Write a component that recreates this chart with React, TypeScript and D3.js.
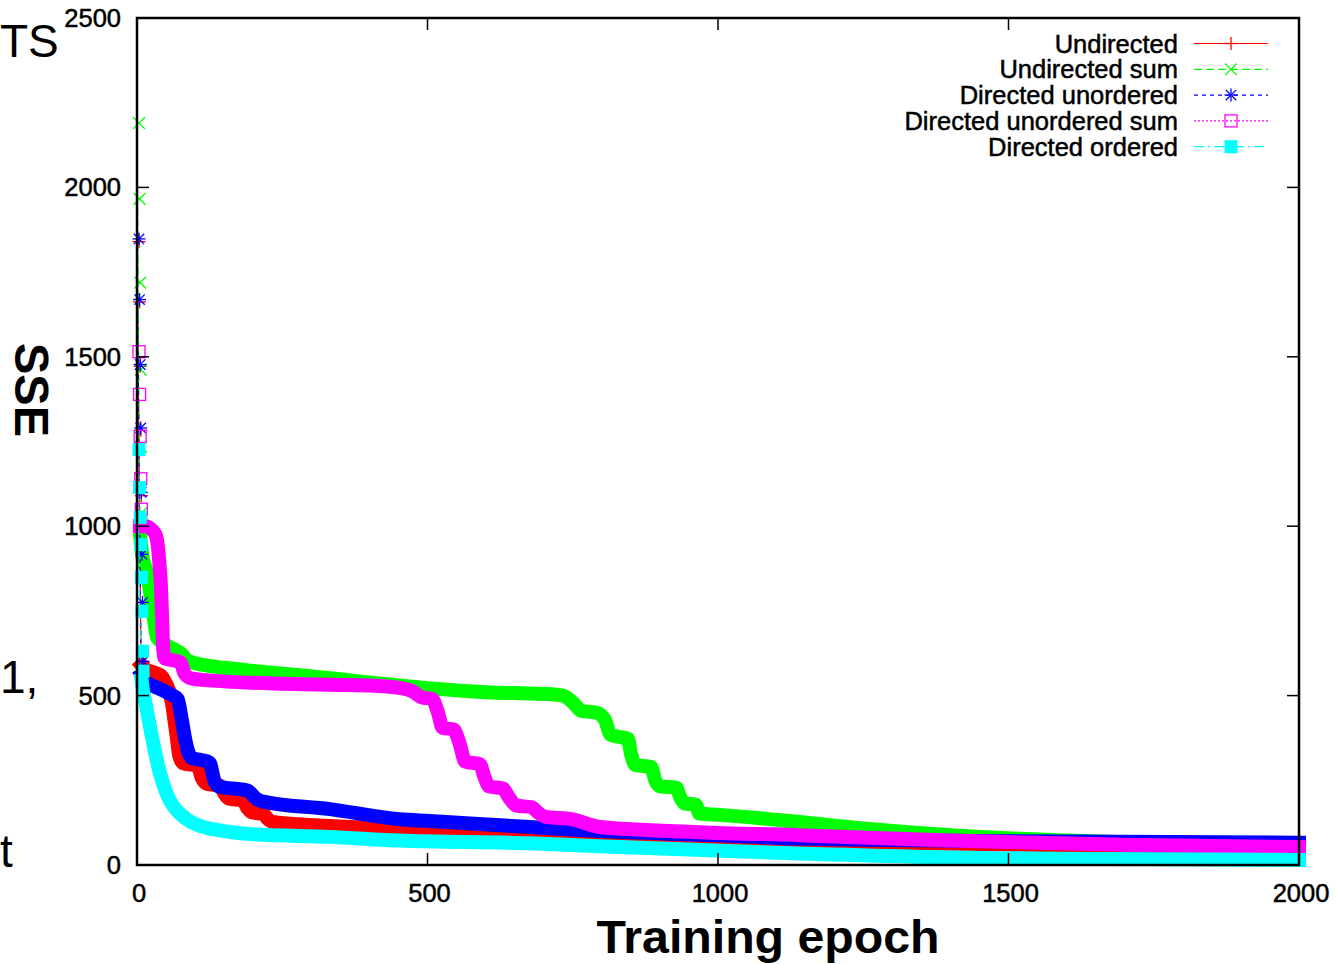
import React from 'react'
import * as d3 from 'd3'

// values
const xTickValues = [0, 500, 1000, 1500, 2000]
const yTickValues = [0, 500, 1000, 1500, 2000, 2500]

const seriesNames = ['Undirected', 'Undirected sum', 'Directed unordered', 'Directed unordered sum', 'Directed ordered']

// first epochs, one point per epoch (0, 1, 2, ...)
const undirectedEarly = [1840, 1662, 1472, 1283, 1090, 910, 765, 598]
const undirectedSumEarly = [2190, 1966, 1719, 1462, 1235, 1040]
const directedUnorderedEarly = [1848, 1669, 1477, 1290, 1100, 917, 775, 601]
const directedUnorderedSumEarly = [1515, 1389, 1265, 1140, 1050]
const directedOrderedEarly = [1226, 1114, 1026, 946, 849, 749, 631, 572]

// the rest of the run
const undirectedEpochs = [8, 15, 30, 42, 50, 56, 61, 65, 69, 73, 80, 104, 112, 120, 143, 150, 158, 182, 190, 197, 218, 225, 233, 332, 452, 676, 900, 1200, 1600, 2000]
const undirectedSse = [590, 578, 568, 558, 535, 510, 470, 420, 370, 320, 300, 293, 255, 240, 234, 212, 196, 190, 168, 156, 150, 136, 127, 115, 106, 92, 80, 68, 58, 50]

const undirectedSumEpochs = [6, 10, 15, 20, 25, 30, 35, 45, 60, 75, 88, 110, 150, 200, 280, 350, 420, 500, 600, 700, 733, 750, 765, 790, 805, 815, 830, 845, 850, 858, 885, 892, 900, 928, 935, 942, 962, 968, 1003, 1140, 1250, 1400, 1600, 1800, 2000]
const undirectedSumSse = [960, 905, 875, 835, 775, 715, 670, 655, 640, 625, 602, 592, 582, 573, 560, 548, 535, 522, 510, 505, 500, 480, 455, 450, 430, 385, 378, 372, 330, 295, 290, 250, 232, 228, 200, 182, 178, 152, 148, 127, 108, 88, 72, 62, 55]

const directedUnorderedEpochs = [8, 15, 30, 45, 60, 70, 76, 82, 88, 95, 110, 125, 133, 140, 190, 205, 215, 332, 452, 504, 676, 796, 1000, 1140, 1500, 2000]
const directedUnorderedSse = [560, 540, 527, 515, 502, 490, 440, 380, 335, 315, 310, 302, 250, 232, 220, 196, 188, 165, 135, 130, 112, 100, 88, 78, 70, 66]

const directedUnorderedSumEpochs = [5, 15, 25, 32, 36, 39, 41, 43, 45, 48, 60, 75, 82, 95, 150, 250, 330, 400, 455, 475, 490, 508, 518, 526, 545, 555, 565, 590, 598, 606, 630, 640, 652, 680, 690, 702, 750, 796, 968, 1140, 1400, 1700, 2000]
const directedUnorderedSumSse = [1000, 1000, 990, 975, 940, 880, 830, 740, 640, 610, 605, 598, 565, 550, 542, 535, 532, 530, 522, 512, 495, 490, 450, 405, 400, 360, 305, 298, 260, 232, 226, 200, 176, 170, 155, 143, 135, 112, 97, 88, 72, 60, 53]

const directedOrderedEpochs = [8, 10, 15, 20, 25, 30, 35, 40, 50, 60, 75, 100, 150, 200, 332, 452, 676, 796, 1140, 1484, 1656, 2000]
const directedOrderedSse = [545, 519, 475, 430, 385, 342, 302, 268, 215, 180, 150, 121, 100, 91, 83, 72, 64, 55, 34, 20, 18, 15]

const W = 1336
const H = 964
const left = 137
const right = 1299
const top = 18
const bottom = 865
const font = 'Liberation Sans, Arial, Helvetica, sans-serif'

const x = d3.scaleLinear().domain([0, 2000]).range([left, right])
const y = d3.scaleLinear().domain([0, 2500]).range([bottom, top])

type MarkerType = 'plus' | 'cross' | 'star' | 'box' | 'boxfill'

const series = [
  { name: seriesNames[0], color: '#ff0000', dash: 'none', marker: 'plus' as MarkerType, early: undirectedEarly, epochs: undirectedEpochs, sse: undirectedSse },
  { name: seriesNames[1], color: '#00ff00', dash: '8,4', marker: 'cross' as MarkerType, early: undirectedSumEarly, epochs: undirectedSumEpochs, sse: undirectedSumSse },
  { name: seriesNames[2], color: '#0000ff', dash: '4,4', marker: 'star' as MarkerType, early: directedUnorderedEarly, epochs: directedUnorderedEpochs, sse: directedUnorderedSse },
  { name: seriesNames[3], color: '#ff00ff', dash: '2,2', marker: 'box' as MarkerType, early: directedUnorderedSumEarly, epochs: directedUnorderedSumEpochs, sse: directedUnorderedSumSse },
  { name: seriesNames[4], color: '#00ffff', dash: '10,4,2,4', marker: 'boxfill' as MarkerType, early: directedOrderedEarly, epochs: directedOrderedEpochs, sse: directedOrderedSse },
]

function Marker({ type, cx, cy, color }: { type: MarkerType; cx: number; cy: number; color: string }) {
  const s = 6.5
  const sw = 1.3
  if (type === 'plus') {
    return (
      <g stroke={color} strokeWidth={sw}>
        <line x1={cx - s} y1={cy} x2={cx + s} y2={cy} />
        <line x1={cx} y1={cy - s} x2={cx} y2={cy + s} />
      </g>
    )
  }
  if (type === 'cross') {
    const d = s * 0.9
    return (
      <g stroke={color} strokeWidth={sw}>
        <line x1={cx - d} y1={cy - d} x2={cx + d} y2={cy + d} />
        <line x1={cx - d} y1={cy + d} x2={cx + d} y2={cy - d} />
      </g>
    )
  }
  if (type === 'star') {
    const d = s * 0.8
    return (
      <g stroke={color} strokeWidth={sw}>
        <line x1={cx - s} y1={cy} x2={cx + s} y2={cy} />
        <line x1={cx} y1={cy - s} x2={cx} y2={cy + s} />
        <line x1={cx - d} y1={cy - d} x2={cx + d} y2={cy + d} />
        <line x1={cx - d} y1={cy + d} x2={cx + d} y2={cy - d} />
      </g>
    )
  }
  if (type === 'box') {
    return <rect x={cx - 6} y={cy - 6} width={12} height={12} fill="none" stroke={color} strokeWidth={sw} />
  }
  return <rect x={cx - 6.5} y={cy - 6.5} width={13} height={13} fill={color} />
}

const App = () => {
  const band = d3
    .line<[number, number]>()
    .x((d) => x(d[0]))
    .y((d) => y(d[1]))
    .curve(d3.curveMonotoneX)
  const thin = d3
    .line<[number, number]>()
    .x((d) => x(d[0]))
    .y((d) => y(d[1]))

  const tickLen = 12
  const labelStyle = { fontFamily: font, fontSize: 25.5, fill: '#000', stroke: '#000', strokeWidth: 0.5 }

  return (
    <div style={{ position: 'absolute', left: 0, top: 0 }}>
      <svg width={W} height={H} style={{ display: 'block', background: '#fff' }}>
        {/* bits of neighbouring page text at the left edge, as in the source */}
        <g fontFamily={font} fontSize={46} fill="#000">
          <text x={0} y={57}>TS</text>
          <text x={0} y={693}>1,</text>
          <text x={0} y={867}>t</text>
        </g>

        {/* data */}
        {series.map((s) => {
          const earlyPts: [number, number][] = s.early.map((v, i) => [i, v])
          const bandPts: [number, number][] = s.epochs.map((e, i) => [e, s.sse[i]])
          return (
            <g key={s.name}>
              <path d={thin([...earlyPts, bandPts[0]]) || ''} fill="none" stroke={s.color} strokeWidth={1.2} strokeDasharray={s.dash} />
              {earlyPts.map((p, i) => (
                <Marker key={i} type={s.marker} cx={x(p[0]) + 2} cy={y(p[1])} color={s.color} />
              ))}
              <path d={band(bandPts) || ''} fill="none" stroke={s.color} strokeWidth={14} strokeLinejoin="round" strokeLinecap="square" />
            </g>
          )
        })}

        {/* frame and ticks */}
        <rect x={left} y={top} width={right - left} height={bottom - top} fill="none" stroke="#000" strokeWidth={2.5} />
        {xTickValues.map((t) => (
          <g key={'x' + t}>
            <line x1={x(t)} x2={x(t)} y1={bottom} y2={bottom - tickLen} stroke="#000" strokeWidth={1.5} />
            <line x1={x(t)} x2={x(t)} y1={top} y2={top + tickLen} stroke="#000" strokeWidth={1.5} />
            <text x={x(t) + 2} y={902} textAnchor="middle" {...labelStyle}>
              {t}
            </text>
          </g>
        ))}
        {yTickValues.map((t) => (
          <g key={'y' + t}>
            <line x1={left} x2={left + tickLen} y1={y(t)} y2={y(t)} stroke="#000" strokeWidth={1.5} />
            <line x1={right} x2={right - tickLen} y1={y(t)} y2={y(t)} stroke="#000" strokeWidth={1.5} />
            <text x={121} y={y(t) + 9} textAnchor="end" {...labelStyle}>
              {t}
            </text>
          </g>
        ))}

        {/* axis titles */}
        <text x={768} y={953} textAnchor="middle" fontFamily={font} fontWeight="bold" fontSize={46} textLength={343} lengthAdjust="spacingAndGlyphs">
          Training epoch
        </text>
        <text transform="translate(15,390) rotate(90)" textAnchor="middle" fontFamily={font} fontWeight="bold" fontSize={48} textLength={94} lengthAdjust="spacingAndGlyphs">
          SSE
        </text>

        {/* legend */}
        {series.map((s, i) => {
          const ly = 43.5 + i * 25.8
          return (
            <g key={'leg' + s.name}>
              <text x={1178} y={ly + 9} textAnchor="end" {...labelStyle}>
                {s.name}
              </text>
              <line x1={1194} x2={1268} y1={ly} y2={ly} stroke={s.color} strokeWidth={1.2} strokeDasharray={s.dash} />
              <Marker type={s.marker} cx={1231} cy={ly} color={s.color} />
            </g>
          )
        })}
      </svg>
    </div>
  )
}

export default App
